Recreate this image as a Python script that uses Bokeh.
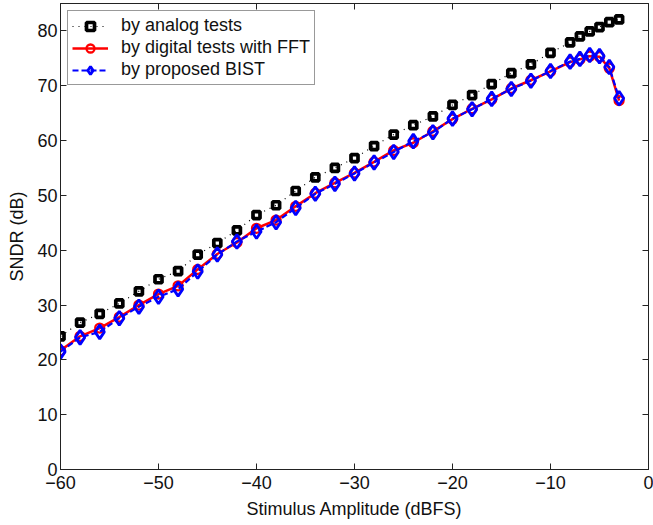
from bokeh.plotting import figure
from bokeh.models import Range1d, LinearAxis, FixedTicker
from bokeh.embed import file_html
from bokeh.resources import INLINE

amplitude = [-60, -58, -56, -54, -52, -50, -48, -46, -44, -42, -40, -38, -36, -34, -32,
             -30, -28, -26, -24, -22, -20, -18, -16, -14, -12, -10, -8, -7, -6, -5, -4, -3]
sndr_analog = [24.3, 26.8, 28.4, 30.3, 32.5, 34.7, 36.2, 39.2, 41.3, 43.6, 46.4, 48.2, 50.8,
               53.3, 55.0, 56.8, 59.0, 61.1, 62.8, 64.4, 66.5, 68.3, 70.3, 72.3, 73.9, 76.0,
               77.9, 79.0, 79.9, 80.7, 81.6, 82.1]
sndr_fft = [21.7, 24.3, 25.8, 27.8, 30.0, 32.0, 33.5, 36.5, 39.3, 41.4, 44.0, 45.5, 48.0,
            50.4, 52.3, 54.1, 56.1, 58.2, 59.6, 61.7, 63.9, 65.8, 67.5, 69.5, 71.0, 72.6,
            74.3, 74.8, 75.4, 75.3, 73.2, 67.3]
sndr_bist = [21.5, 24.1, 25.1, 27.6, 29.7, 31.5, 32.9, 36.1, 39.2, 41.6, 43.4, 45.1, 47.7,
             50.3, 52.1, 54.0, 56.0, 57.9, 59.9, 61.5, 64.0, 65.7, 67.6, 69.4, 70.9, 72.7,
             74.4, 74.9, 75.6, 75.4, 73.4, 67.7]

x_ticks = [-60, -50, -40, -30, -20, -10, 0]
y_ticks = [0, 10, 20, 30, 40, 50, 60, 70, 80]
x_tick_labels = {t: str(t).replace("-", "\u2212") for t in x_ticks}

FONT = "Liberation Sans"
FS = "18px"

p = figure(width=653, height=525, output_backend="svg", toolbar_location=None,
           x_range=Range1d(-60, 0), y_range=Range1d(0, 85),
           min_border_left=60, min_border_right=5, min_border_top=3, min_border_bottom=56)
p.grid.visible = False
p.outline_line_color = "#222222"
p.outline_line_width = 1
p.background_fill_color = "white"

for ax in (p.xaxis[0], p.yaxis[0]):
    ax.major_tick_in = 6
    ax.major_tick_out = 0
    ax.minor_tick_in = 0
    ax.minor_tick_out = 0
    ax.axis_line_color = "#222222"
    ax.major_tick_line_color = "#222222"
    ax.major_label_text_font = FONT
    ax.major_label_text_font_size = FS
    ax.major_label_text_color = "#111111"
    ax.axis_label_text_font = FONT
    ax.axis_label_text_font_size = FS
    ax.axis_label_text_font_style = "normal"
    ax.axis_label_text_color = "#111111"

p.xaxis[0].ticker = FixedTicker(ticks=x_ticks)
p.xaxis[0].major_label_overrides = x_tick_labels
p.xaxis[0].major_label_standoff = 6
p.xaxis[0].axis_label = "Stimulus Amplitude (dBFS)"
p.xaxis[0].axis_label_standoff = 7

p.yaxis[0].ticker = FixedTicker(ticks=y_ticks)
p.yaxis[0].major_label_standoff = 3
p.yaxis[0].axis_label = "SNDR (dB)"
p.yaxis[0].axis_label_standoff = 7

top = LinearAxis(ticker=FixedTicker(ticks=x_ticks),
                 major_label_overrides={t: "" for t in x_ticks})
right = LinearAxis(ticker=FixedTicker(ticks=y_ticks),
                   major_label_overrides={t: "" for t in y_ticks})
for ax in (top, right):
    ax.major_tick_in = 6
    ax.major_tick_out = 0
    ax.minor_tick_in = 0
    ax.minor_tick_out = 0
    ax.major_label_text_font_size = "1px"
    ax.major_label_standoff = 0
    ax.axis_line_color = "#222222"
    ax.major_tick_line_color = "#222222"
p.add_layout(top, "above")
p.add_layout(right, "right")

# analog tests: black dotted with squares
p.line(amplitude, sndr_analog, line_color="black", line_width=1.2, line_dash="1 5",
       legend_label="by analog tests")
p.scatter(amplitude, sndr_analog, marker="square", size=7, line_color="black",
          line_width=3.7, fill_color=None, legend_label="by analog tests")

# digital tests with FFT: red solid with circles
p.line(amplitude, sndr_fft, line_color="red", line_width=2.5,
       legend_label="by digital tests with FFT")
p.scatter(amplitude, sndr_fft, marker="circle", size=9, line_color="red",
          line_width=2.3, fill_color=None, legend_label="by digital tests with FFT")

# proposed BIST: blue dashed with diamonds
p.line(amplitude, sndr_bist, line_color="blue", line_width=2.2, line_dash="6 3",
       legend_label="by proposed BIST")
p.scatter(amplitude, sndr_bist, marker="diamond", size=14, line_color="blue",
          line_width=2.8, fill_color=None, legend_label="by proposed BIST")

lg = p.legend[0]
lg.location = "top_left"
lg.margin = 7
lg.padding = 4
lg.spacing = 1
lg.label_height = 20
lg.glyph_height = 20
lg.glyph_width = 36
lg.label_standoff = 13
lg.label_text_font = FONT
lg.label_text_font_size = FS
lg.label_text_color = "#111111"
lg.border_line_color = "#333333"
lg.border_line_width = 1
lg.background_fill_color = "white"
lg.background_fill_alpha = 1

open("out.html", "w").write(file_html(p, INLINE))
